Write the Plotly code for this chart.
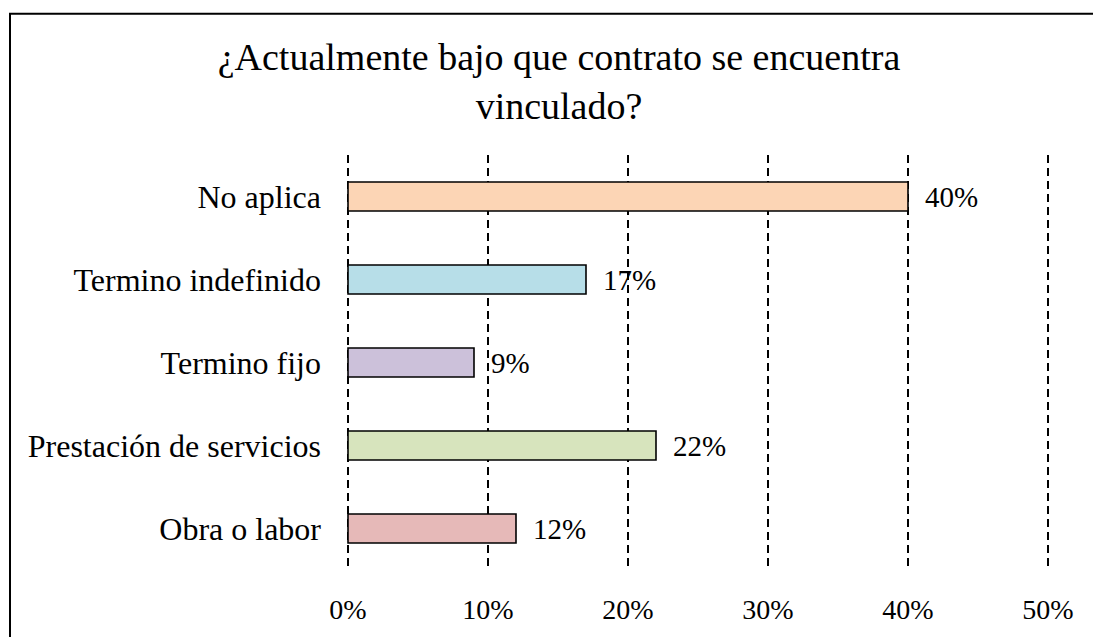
import plotly.graph_objects as go

categories = ["No aplica", "Termino indefinido", "Termino fijo", "Prestación de servicios", "Obra o labor"]
values = [40, 17, 9, 22, 12]
bar_colors = ["#FCD5B5", "#B7DEE8", "#CCC1DA", "#D7E4BD", "#E6B9B8"]
labels = ["40%", "17%", "9%", "22%", "12%"]
tick_vals = [0, 10, 20, 30, 40, 50]
tick_text = ["0%", "10%", "20%", "30%", "40%", "50%"]
title_text = "¿Actualmente bajo que contrato se encuentra<br>vinculado?"

FONT = "Liberation Serif, Times New Roman, serif"

fig = go.Figure()
fig.add_trace(go.Bar(
    y=categories, x=values, orientation="h",
    marker=dict(color=bar_colors, line=dict(color="black", width=1.6)),
    hoverinfo="skip",
))

for c, v, t in zip(categories, values, labels):
    fig.add_annotation(x=v, y=c, text=t, showarrow=False, xanchor="left",
                       xshift=15, font=dict(size=29, color="black", family=FONT))

W, H = 1093, 637
L, R, T, B = 346, 43, 155, 65
pw, ph = W - L - R, H - T - B

def px(x):
    return (x - L) / pw

def py(y):
    return 1 - (y - T) / ph

fig.add_shape(type="rect", xref="paper", yref="paper",
              x0=px(10), x1=px(1100), y0=py(13), y1=py(645),
              line=dict(color="black", width=2), fillcolor="rgba(0,0,0,0)", layer="below")

fig.update_layout(
    width=W, height=H,
    margin=dict(l=L, r=R, t=T, b=B),
    paper_bgcolor="white", plot_bgcolor="white",
    font=dict(family=FONT, size=28, color="black"),
    showlegend=False,
    bargap=0.65,
    title=dict(text=title_text, x=px(559), xref="paper", xanchor="center",
               y=1 - 70 / H, yref="container", yanchor="top",
               font=dict(size=38, family=FONT, color="black")),
    xaxis=dict(range=[-2 / 14, 702 / 14], tickvals=tick_vals, ticktext=tick_text,
               showgrid=True, gridcolor="black", griddash="8px,5px", gridwidth=1.5,
               zeroline=False, showline=False, ticks="", ticklabelstandoff=20,
               tickfont=dict(size=28, family=FONT, color="black")),
    yaxis=dict(autorange="reversed", showgrid=False, zeroline=False, showline=False,
               ticks="", ticklabelstandoff=24,
               tickfont=dict(size=32, family=FONT, color="black")),
)

fig.write_html("out.html", config={"displayModeBar": False},
               post_script="document.body.style.margin='0px';")
